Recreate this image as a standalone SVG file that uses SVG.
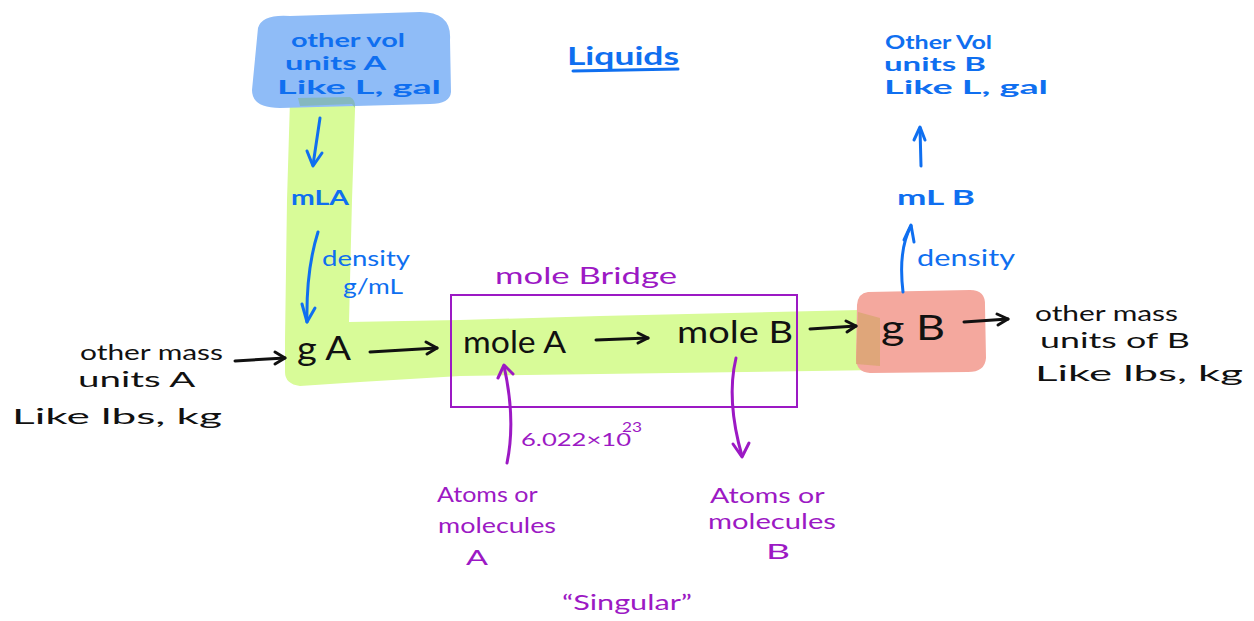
<svg xmlns="http://www.w3.org/2000/svg" width="1254" height="621" viewBox="0 0 1254 621">
  <style>
    text { font-family: "Lato", "Liberation Sans", sans-serif; }
    .blue { fill: #0f6ff0; font-weight: bold; }
    .ink { fill: #111111; }
    .purple { fill: #9c19c4; }
    .line-blue { stroke: #0f6ff0; stroke-width: 3; fill: none; stroke-linecap: round; stroke-linejoin: round; }
    .line-ink { stroke: #111111; stroke-width: 3; fill: none; stroke-linecap: round; stroke-linejoin: round; }
    .line-purple { stroke: #9c19c4; stroke-width: 3; fill: none; stroke-linecap: round; stroke-linejoin: round; }
  </style>

  <rect width="1254" height="621" fill="#ffffff"/>

  <!-- highlighter strokes -->
  <g id="highlights">
    <path d="M290 100 Q292 96 300 97 L350 98 Q356 100 355 110 L352 200 L349 322 L460 320 L600 316 L860 310 L882 318 L880 370 L600 374 L460 376 L360 382 L300 386 Q285 384 285 372 L285 340 L287 200 Z" fill="#d8fb98"/>
    <path d="M258 28 Q262 14 290 16 L420 12 Q452 12 450 40 L451 92 Q450 104 430 104 L280 108 Q252 108 252 90 Z" fill="#8fbcf7"/>
    <path d="M298 98 L350 97 Q356 100 355 108 L352 104 L300 106 Z" fill="#7fb59a" opacity="0.6"/>
    <path d="M868 292 L970 290 Q986 290 985 306 L986 358 Q985 372 968 372 L870 373 Q856 372 856 358 L857 305 Q858 293 868 292 Z" fill="#f4a89e"/>
    <path d="M858 312 L880 318 L880 366 L856 364 Z" fill="#d9a570" opacity="0.8"/>
  </g>

  <!-- mole bridge frame -->
  <g id="mole-bridge">
    <rect x="451" y="295" width="346" height="112" fill="none" stroke="#9c19c4" stroke-width="2"/>
    <text x="495" y="284" class="purple" font-size="24" textLength="182" lengthAdjust="spacingAndGlyphs">mole Bridge</text>
  </g>

  <g id="title">
    <text x="567" y="65" class="blue" font-size="24" textLength="112" lengthAdjust="spacingAndGlyphs">Liquids</text>
    <path d="M573 71 L678 69" class="line-blue" stroke-width="2.5"/>
  </g>

  <g id="node-vol-a">
    <text class="blue" font-size="19">
      <tspan x="291" y="47" textLength="114" lengthAdjust="spacingAndGlyphs">other vol</tspan>
      <tspan x="285" y="70" textLength="100" lengthAdjust="spacingAndGlyphs">units A</tspan>
      <tspan x="277" y="94" textLength="164" lengthAdjust="spacingAndGlyphs">Like L, gal</tspan>
    </text>
  </g>

  <g id="node-ml-a">
    <text x="291" y="205" class="blue" font-size="21" textLength="58" lengthAdjust="spacingAndGlyphs">mLA</text>
  </g>

  <g id="node-g-a">
    <text x="297" y="360" class="ink" font-size="32" textLength="54" lengthAdjust="spacingAndGlyphs">g A</text>
  </g>

  <g id="node-mass-a">
    <text class="ink" font-size="21">
      <tspan x="80" y="360" textLength="143" lengthAdjust="spacingAndGlyphs">other mass</tspan>
      <tspan x="78" y="387" textLength="116" lengthAdjust="spacingAndGlyphs">units A</tspan>
      <tspan x="12" y="424" textLength="210" lengthAdjust="spacingAndGlyphs">Like lbs, kg</tspan>
    </text>
  </g>

  <g id="node-mole-a">
    <text x="463" y="353" class="ink" font-size="30" textLength="103" lengthAdjust="spacingAndGlyphs">mole A</text>
  </g>

  <g id="node-mole-b">
    <text x="677" y="343" class="ink" font-size="30" textLength="116" lengthAdjust="spacingAndGlyphs">mole B</text>
  </g>

  <g id="node-g-b">
    <text x="881" y="340" class="ink" font-size="34" textLength="64" lengthAdjust="spacingAndGlyphs">g B</text>
  </g>

  <g id="node-mass-b">
    <text class="ink" font-size="22">
      <tspan x="1035" y="321" textLength="143" lengthAdjust="spacingAndGlyphs">other mass</tspan>
      <tspan x="1040" y="348" textLength="150" lengthAdjust="spacingAndGlyphs">units of B</tspan>
      <tspan x="1035" y="381" textLength="208" lengthAdjust="spacingAndGlyphs">Like lbs, kg</tspan>
    </text>
  </g>

  <g id="node-ml-b">
    <text x="897" y="205" class="blue" font-size="21" textLength="78" lengthAdjust="spacingAndGlyphs">mL B</text>
  </g>

  <g id="node-vol-b">
    <text class="blue" font-size="19">
      <tspan x="885" y="49" textLength="107" lengthAdjust="spacingAndGlyphs">Other Vol</tspan>
      <tspan x="884" y="71" textLength="102" lengthAdjust="spacingAndGlyphs">units B</tspan>
      <tspan x="884" y="94" textLength="164" lengthAdjust="spacingAndGlyphs">Like L, gal</tspan>
    </text>
  </g>

  <g id="node-atoms-a">
    <text class="purple" font-size="21">
      <tspan x="437" y="502" textLength="100" lengthAdjust="spacingAndGlyphs">Atoms or</tspan>
      <tspan x="438" y="533" textLength="118" lengthAdjust="spacingAndGlyphs">molecules</tspan>
      <tspan x="466" y="565" textLength="22" lengthAdjust="spacingAndGlyphs">A</tspan>
    </text>
  </g>

  <g id="node-atoms-b">
    <text class="purple" font-size="21">
      <tspan x="710" y="503" textLength="114" lengthAdjust="spacingAndGlyphs">Atoms or</tspan>
      <tspan x="708" y="529" textLength="128" lengthAdjust="spacingAndGlyphs">molecules</tspan>
      <tspan x="766" y="559" textLength="24" lengthAdjust="spacingAndGlyphs">B</tspan>
    </text>
  </g>

  <g id="note-singular">
    <text x="562" y="610" class="purple" font-size="22" textLength="130" lengthAdjust="spacingAndGlyphs">“Singular”</text>
  </g>

  <!-- connectors -->
  <g id="connectors">
    <!-- vol A to mL A -->
    <path d="M320 118 L313 165" class="line-blue"/>
    <path d="M307 151 L313 166 L322 153" class="line-blue"/>
    <!-- mL A to g A, density -->
    <path d="M318 232 Q306 270 307 322" class="line-blue"/>
    <path d="M302 304 L307 322 L315 308" class="line-blue"/>
    <text class="blue" font-size="22">
      <tspan x="322" y="266" textLength="88" lengthAdjust="spacingAndGlyphs" style="font-weight:normal">density</tspan>
      <tspan x="343" y="294" textLength="60" lengthAdjust="spacingAndGlyphs" style="font-weight:normal">g/mL</tspan>
    </text>

    <!-- mass A to g A -->
    <path d="M235 361 L285 358" class="line-ink" stroke-width="2.5"/>
    <path d="M275 352 L285 358 L275 364" class="line-ink" stroke-width="2.5"/>
    <!-- g A to mole A -->
    <path d="M370 352 L437 348" class="line-ink"/>
    <path d="M426 342 L437 348 L427 354" class="line-ink"/>
    <!-- mole A to mole B -->
    <path d="M596 340 L648 338" class="line-ink"/>
    <path d="M638 333 L648 338 L638 343" class="line-ink"/>
    <!-- mole B to g B -->
    <path d="M810 329 L856 326" class="line-ink"/>
    <path d="M846 321 L856 326 L847 332" class="line-ink"/>
    <!-- g B to other mass B -->
    <path d="M964 322 L1008 319" class="line-ink"/>
    <path d="M997 314 L1008 319 L998 325" class="line-ink"/>

    <!-- g B to mL B, density -->
    <path d="M903 292 Q898 250 911 226" class="line-blue"/>
    <path d="M904 240 L911 225 L914 242" class="line-blue"/>
    <text x="917" y="266" class="blue" font-size="24" textLength="98" lengthAdjust="spacingAndGlyphs" style="font-weight:normal">density</text>
    <!-- mL B to vol B -->
    <path d="M921 166 L920 128" class="line-blue"/>
    <path d="M914 140 L920 127 L925 140" class="line-blue"/>

    <!-- atoms A up to mole A -->
    <path d="M507 463 Q516 420 504 366" class="line-purple"/>
    <path d="M498 378 L504 365 L513 374" class="line-purple"/>
    <text x="521" y="446" class="purple" font-size="18" textLength="110" lengthAdjust="spacingAndGlyphs">6.022×10</text>
    <text x="622" y="432" class="purple" font-size="14" textLength="20" lengthAdjust="spacingAndGlyphs">23</text>

    <!-- mole B down to atoms B -->
    <path d="M736 358 Q726 400 742 456" class="line-purple"/>
    <path d="M733 444 L742 457 L749 443" class="line-purple"/>
  </g>
</svg>
